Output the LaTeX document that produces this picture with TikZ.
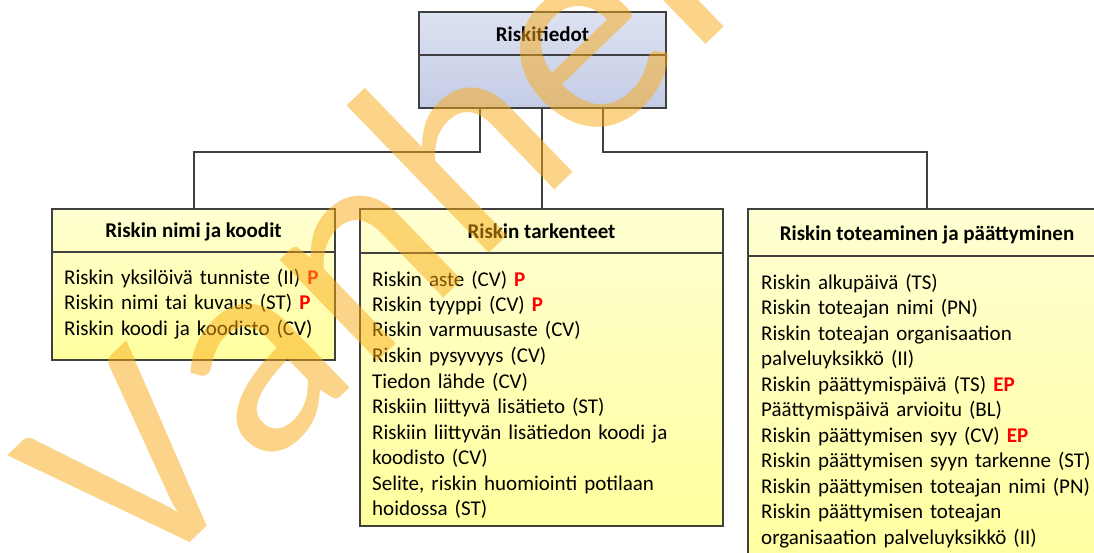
\documentclass[tikz,border=0pt]{standalone}
\usepackage{fontspec}
\setmainfont{Carlito}
\usetikzlibrary{calc}
\definecolor{edge}{RGB}{64,64,64}
\definecolor{rootTop}{RGB}{221,226,241}
\definecolor{rootBot}{RGB}{196,204,230}
\definecolor{groupTop}{RGB}{255,255,210}
\definecolor{groupBot}{RGB}{255,255,158}
\definecolor{reqred}{RGB}{255,0,0}
\definecolor{stamp}{RGB}{250,170,20}
\newcommand{\req}[1]{\textbf{\textcolor{reqred}{#1}}}
\begin{document}
\begin{tikzpicture}[x=1pt,y=-1pt,
  classbox/.style={draw=edge, line width=1.5pt, rectangle, inner sep=0pt, outer sep=0pt, anchor=north west},
  groupbox/.style={classbox, top color=groupTop, bottom color=groupBot},
  rootbox/.style={classbox, top color=rootTop, bottom color=rootBot},
  divider/.style={draw=edge, line width=1.5pt},
  conn/.style={draw=edge, line width=2pt},
  heading/.style={font=\fontsize{21}{25.5}\selectfont\bfseries, inner sep=0pt, anchor=base},
  attrs/.style={font=\fontsize{21}{25.5}\selectfont, inner sep=0pt, text width=#1, align=left, anchor=base west},
  stampglyph/.style={font=\fontsize{295}{295}\selectfont, text=stamp, text opacity=0.5, rotate=#1, anchor=base west, inner sep=0pt},
]
\useasboundingbox (0,0) rectangle (1094,553);
\fill[white] (0,0) rectangle (1094,553);

% class boxes
\node[rootbox, minimum width=247pt, minimum height=96pt] (root) at (419,12) {};
\node[groupbox, minimum width=283pt, minimum height=151pt] (g1) at (52,209) {};
\node[groupbox, minimum width=363pt, minimum height=317pt] (g2) at (360,209) {};
\node[groupbox, minimum width=358pt, minimum height=372pt] (g3) at (748,209) {};

% compartment dividers
\draw[divider] ([yshift=-43pt]root.north west) -- ([yshift=-43pt]root.north east);
\draw[divider] ([yshift=-43pt]g1.north west) -- ([yshift=-43pt]g1.north east);
\draw[divider] ([yshift=-44pt]g2.north west) -- ([yshift=-44pt]g2.north east);
\draw[divider] ([yshift=-47pt]g3.north west) -- ([yshift=-47pt]g3.north east);

% titles
\node[heading] (rootT) at ($(root.north)+(0,30)$) {Riskitiedot};
\node[heading] (g1T) at ($(g1.north)+(0,29)$) {Riskin nimi ja koodit};
\node[heading] (g2T) at ($(g2.north)+(0,30)$) {Riskin tarkenteet};
\node[heading] (g3T) at ($(g3.north)+(0,32)$) {Riskin toteaminen ja päättyminen};

% attribute lists
\node[attrs=270pt] (g1A) at ($(g1.north west)+(12,75)$) {%
Riskin yksilöivä tunniste (II) \req{P}\\
Riskin nimi tai kuvaus (ST) \req{P}\\
Riskin koodi ja koodisto (CV)};
\node[attrs=340pt] (g2A) at ($(g2.north west)+(12,77)$) {%
Riskin aste (CV) \req{P}\\
Riskin tyyppi (CV) \req{P}\\
Riskin varmuusaste (CV)\\
Riskin pysyvyys (CV)\\
Tiedon lähde (CV)\\
Riskiin liittyvä lisätieto (ST)\\
Riskiin liittyvän lisätiedon koodi ja\\
koodisto (CV)\\
Selite, riskin huomiointi potilaan\\
hoidossa (ST)};
\node[attrs=340pt] (g3A) at ($(g3.north west)+(13,80)$) {%
Riskin alkupäivä (TS)\\
Riskin toteajan nimi (PN)\\
Riskin toteajan organisaation\\
palveluyksikkö (II)\\
Riskin päättymispäivä (TS) \req{EP}\\
Päättymispäivä arvioitu (BL)\\
Riskin päättymisen syy (CV) \req{EP}\\
Riskin päättymisen syyn tarkenne (ST)\\
Riskin päättymisen toteajan nimi (PN)\\
Riskin päättymisen toteajan\\
organisaation palveluyksikkö (II)};

% tree connectors
\coordinate (hL) at (480,152);
\coordinate (hR) at (603,152);
\draw[conn] (root.south -| hL) -- (hL) -| (g1.north);
\draw[conn] (root.south -| g2.north) -- (g2.north);
\draw[conn] (root.south -| hR) -- (hR) -| (g3.north);

% status stamp laid over the diagram, one glyph at a time
\node[stampglyph=44] (wmV) at (138.5,592.5) {V};
\node[stampglyph=44] (wmA) at (261.3,473.8) {a};
\node[stampglyph=44] (wmN) at (362.9,375.6) {n};
\node[stampglyph=44] (wmH) at (474.3,268.0) {h};
\node[stampglyph=44] (wmE) at (585.6,160.3) {e};
\node[stampglyph=44] (wmN2) at (691.3,58.2) {n};
\node[stampglyph=44] (wmT) at (802.6,-49.5) {t};
\end{tikzpicture}
\end{document}
